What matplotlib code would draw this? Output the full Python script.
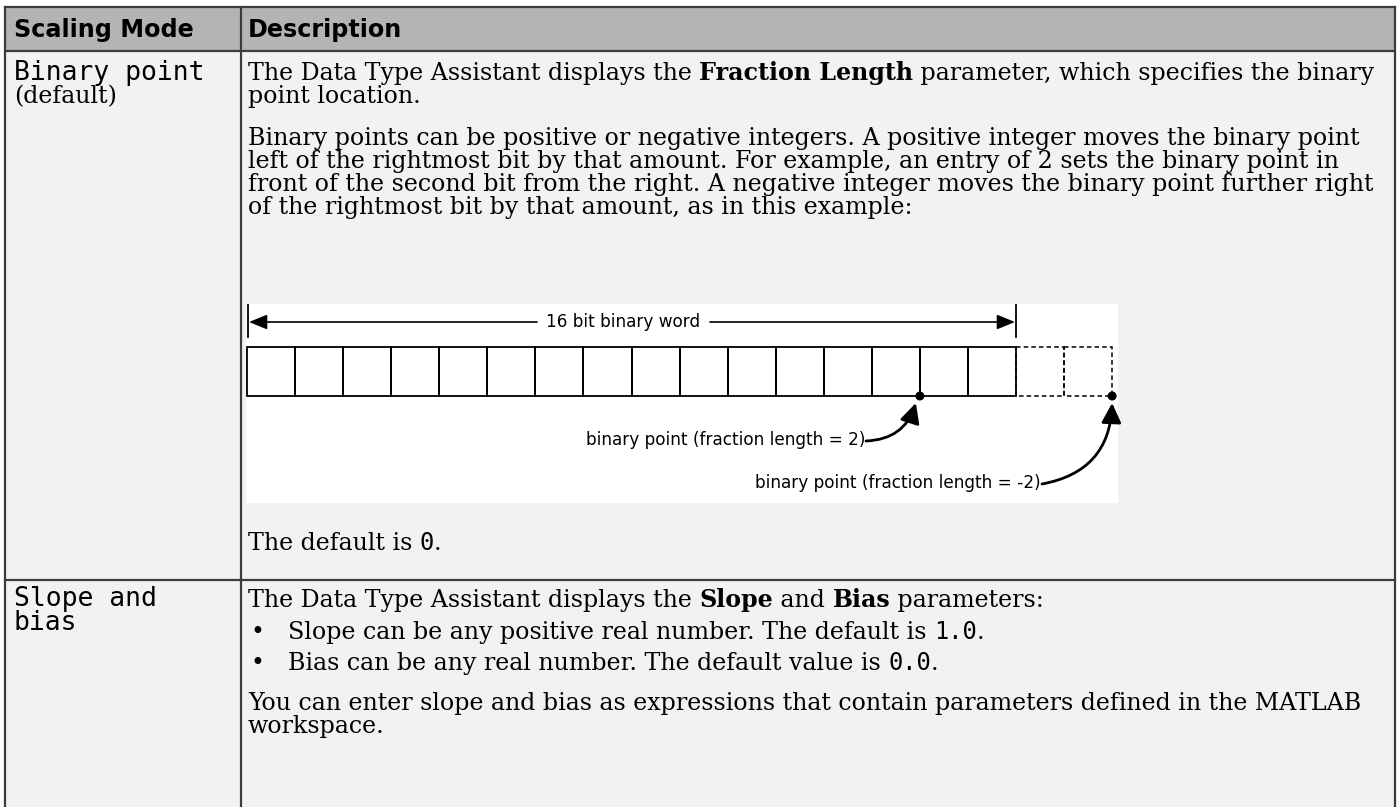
import matplotlib
matplotlib.use("Agg")
import matplotlib.pyplot as plt
from matplotlib.patches import Rectangle, FancyArrowPatch, Circle

# table text
headers = ["Scaling Mode", "Description"]
mode_rows = [["Binary point", "(default)"], ["Slope and", "bias"]]

row1_lines = [
    [("The Data Type Assistant displays the ", "serif"), ("Fraction Length", "bold"),
     (" parameter, which specifies the binary", "serif")],
    [("point location.", "serif")],
    [("Binary points can be positive or negative integers. A positive integer moves the binary point", "serif")],
    [("left of the rightmost bit by that amount. For example, an entry of 2 sets the binary point in", "serif")],
    [("front of the second bit from the right. A negative integer moves the binary point further right", "serif")],
    [("of the rightmost bit by that amount, as in this example:", "serif")],
    [("The default is ", "serif"), ("0", "mono"), (".", "serif")],
]
row1_y = [80, 103, 145, 168, 191, 214, 550]

row2_lines = [
    [("The Data Type Assistant displays the ", "serif"), ("Slope", "bold"), (" and ", "serif"),
     ("Bias", "bold"), (" parameters:", "serif")],
    [("Slope can be any positive real number. The default is ", "serif"), ("1.0", "mono"), (".", "serif")],
    [("Bias can be any real number. The default value is ", "serif"), ("0.0", "mono"), (".", "serif")],
    [("You can enter slope and bias as expressions that contain parameters defined in the MATLAB", "serif")],
    [("workspace.", "serif")],
]
row2_y = [607, 639, 670, 710, 733]
row2_bullet = [False, True, True, False, False]

# diagram
n_bits = 16
n_extra = 2
word_label = "16 bit binary word"
point_labels = ["binary point (fraction length = 2)", "binary point (fraction length = -2)"]

FS = 17.1
STYLES = {
    "serif": dict(family="DejaVu Serif", fontsize=FS),
    "bold": dict(family="DejaVu Serif", fontsize=FS, fontweight="bold"),
    "mono": dict(family="DejaVu Sans Mono", fontsize=FS),
    "mono_big": dict(family="DejaVu Sans Mono", fontsize=19),
    "head": dict(family="DejaVu Sans", fontsize=17.2, fontweight="bold"),
}

fig = plt.figure(figsize=(14, 8.07), dpi=100)
ax = fig.add_axes([0, 0, 1, 1])
ax.set_xlim(0, 1400)
ax.set_ylim(807, 0)
ax.axis("off")
renderer = fig.canvas.get_renderer()

def width(s, style):
    t = ax.text(0, 0, s, **STYLES[style])
    w = t.get_window_extent(renderer).width
    t.remove()
    return w

def draw_runs(x, y, runs):
    for s, style in runs:
        ax.text(x, y, s, va="baseline", ha="left", color="black", **STYLES[style])
        x += width(s + "|", style) - width("|", style)

# backgrounds
R = 1395
ax.add_patch(Rectangle((5, 7), R - 5, 44, facecolor="#b4b4b4", edgecolor="none"))
ax.add_patch(Rectangle((5, 51), R - 5, 760, facecolor="#f2f2f2", edgecolor="none"))

# grid lines
lc = "#3c3c3c"
lw = 1.6
for y in (7, 51, 580):
    ax.plot([5, R], [y, y], color=lc, lw=lw)
for x in (5, 241, R):
    ax.plot([x, x], [7, 810], color=lc, lw=lw)

# header
ax.text(14, 37, headers[0], va="baseline", **STYLES["head"])
ax.text(248, 37, headers[1], va="baseline", **STYLES["head"])

# first column (baseline of a multi-line text is its last line)
ax.text(14, 80, mode_rows[0][0], va="baseline", **STYLES["mono_big"])
ax.text(14, 103, mode_rows[0][1], va="baseline", **STYLES["serif"])
ax.text(14, 630, "\n".join(mode_rows[1]), va="baseline", linespacing=0.91, **STYLES["mono_big"])

for runs, y in zip(row1_lines, row1_y):
    draw_runs(248, y, runs)

for runs, y, b in zip(row2_lines, row2_y, row2_bullet):
    if b:
        ax.text(251, y, "\u2022", va="baseline", **STYLES["serif"])
        draw_runs(288, y, runs)
    else:
        draw_runs(248, y, runs)

# diagram box
ax.add_patch(Rectangle((246, 304), 872, 199, facecolor="white", edgecolor="none"))
cw = (1016 - 247) / n_bits
top, bot = 347, 396
for i in range(n_bits):
    ax.add_patch(Rectangle((247 + i * cw, top), cw, bot - top, facecolor="none",
                           edgecolor="black", lw=1.3))
x0 = 247 + n_bits * cw
for i in range(n_extra):
    ax.add_patch(Rectangle((x0 + i * cw, top), cw, bot - top, facecolor="none",
                           edgecolor="black", lw=1.1, ls=(0, (3, 2))))

dfont = dict(family="DejaVu Sans", fontsize=12.2, color="black")
ax.plot([248, 248], [305, 337], color="black", lw=1.3)
ax.plot([x0, x0], [305, 337], color="black", lw=1.3)
ax.text(623, 322, word_label, ha="center", va="center", **dfont)
ax.add_patch(FancyArrowPatch((537, 322), (249, 322), arrowstyle="-|>,head_length=11,head_width=4.5",
                             color="black", lw=1.2, shrinkA=0, shrinkB=0))
ax.add_patch(FancyArrowPatch((710, 322), (x0 - 1, 322), arrowstyle="-|>,head_length=11,head_width=4.5",
                             color="black", lw=1.2, shrinkA=0, shrinkB=0))

p1 = 247 + (n_bits - 2) * cw
p2 = x0 + n_extra * cw
for px in (p1, p2):
    ax.add_patch(Circle((px, bot), 3.8, color="black", zorder=5))

ax.text(865, 440, point_labels[0], ha="right", va="center", **dfont)
ax.add_patch(FancyArrowPatch((866, 441), (p1 - 4, 403), arrowstyle="-|>,head_length=12,head_width=6",
                             connectionstyle="arc3,rad=0.35", color="black", lw=2,
                             shrinkA=0, shrinkB=0))
ax.text(1041, 483, point_labels[1], ha="right", va="center", **dfont)
ax.add_patch(FancyArrowPatch((1042, 484), (p2, 403), arrowstyle="-|>,head_length=12,head_width=6",
                             connectionstyle="arc3,rad=0.4", color="black", lw=2,
                             shrinkA=0, shrinkB=0))

fig.savefig("out.png", dpi=100, facecolor="white")
